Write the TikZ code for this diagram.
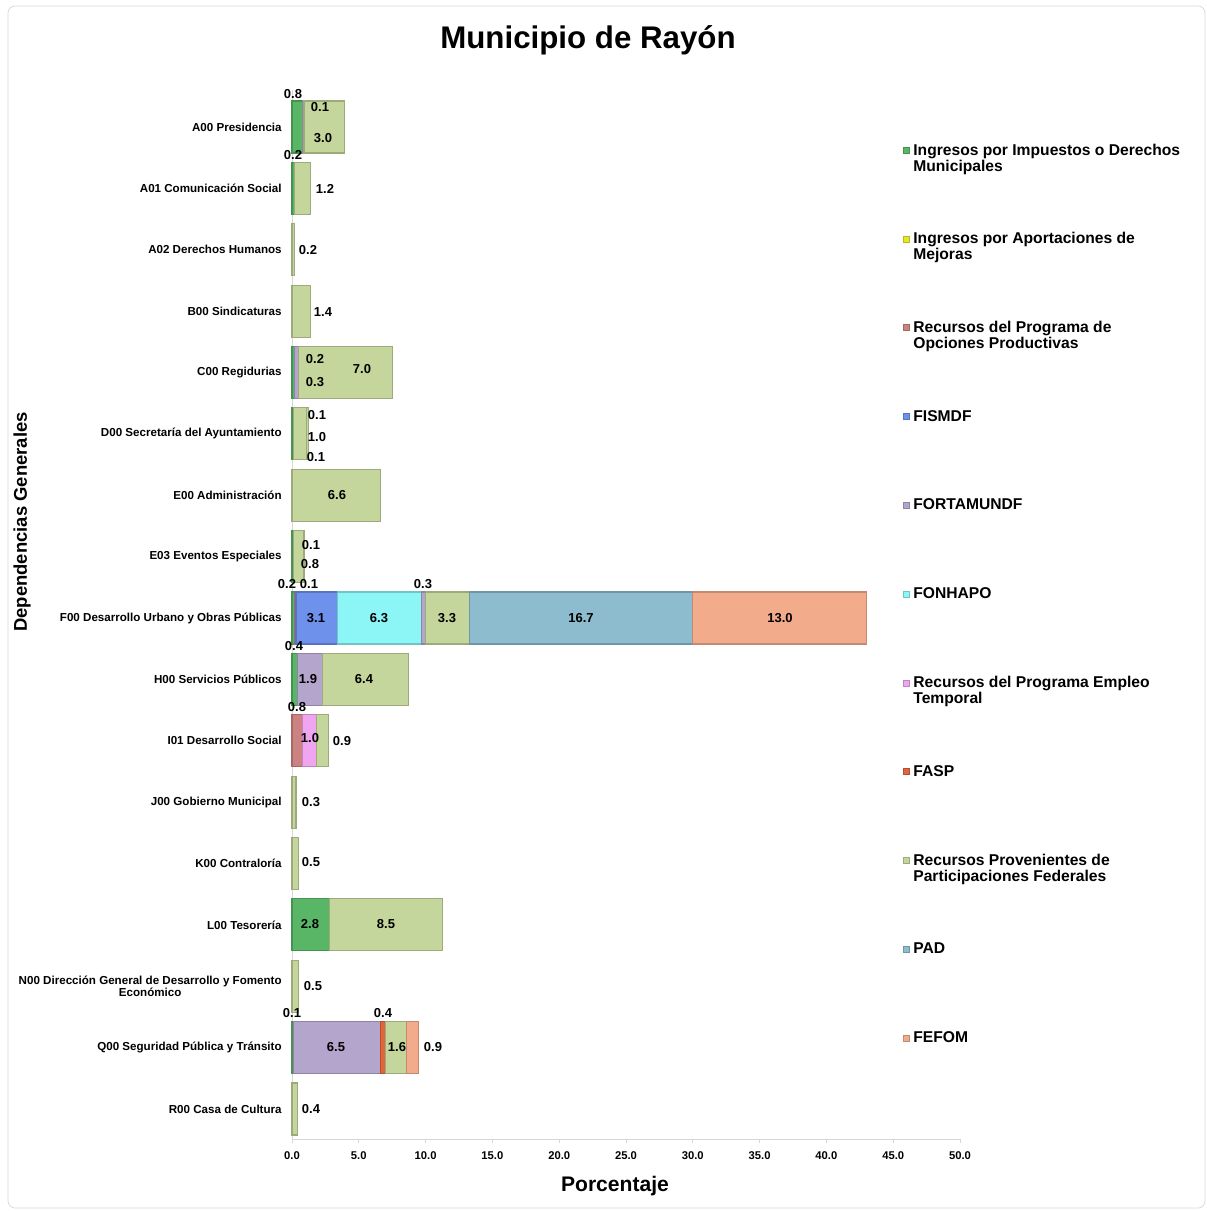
\documentclass[tikz,border=0pt]{standalone}
\usepackage{fontspec}
\setmainfont{Liberation Sans}
\usetikzlibrary{positioning}
\definecolor{cImp}{RGB}{88,182,102}
\definecolor{cMej}{RGB}{230,230,40}
\definecolor{cOpc}{RGB}{205,130,130}
\definecolor{cFis}{RGB}{110,145,235}
\definecolor{cFor}{RGB}{180,165,205}
\definecolor{cFon}{RGB}{140,245,245}
\definecolor{cEmp}{RGB}{240,165,240}
\definecolor{cFasp}{RGB}{225,100,60}
\definecolor{cPar}{RGB}{196,214,155}
\definecolor{cPad}{RGB}{140,188,206}
\definecolor{cFef}{RGB}{242,172,140}
\definecolor{gridgray}{RGB}{215,215,215}
\begin{document}
\begin{tikzpicture}[x=0.02cm,y=-0.02cm,
    seg/.style={fill=#1,draw=#1!80!black,line width=0.6pt},
    cat/.style={anchor=east,inner sep=0pt,align=center,font=\bfseries\fontsize{6.6}{7}\selectfont},
    val/.style={inner sep=0pt,font=\bfseries\fontsize{7.4}{8}\selectfont},
    tick/.style={inner sep=0pt,font=\bfseries\fontsize{6.4}{7}\selectfont},
    key/.style={fill=#1,draw=#1!80!black,line width=0.3pt},
    keytext/.style={anchor=north west,inner sep=0pt,align=left,font=\bfseries\fontsize{8.9}{9.1}\selectfont}]
  \useasboundingbox (0,0) rectangle (1207,1211);
  \draw[gridgray,rounded corners=4pt] (8,6) rectangle (1205,1208);
  % title and axis titles
  \node[font=\bfseries\fontsize{17.8}{21}\selectfont] (title) at (588,40) {Municipio de Rayón};
  \node[font=\bfseries\fontsize{12}{14}\selectfont] (xtitle) at (615,1186) {Porcentaje};
  \node[rotate=90,font=\bfseries\fontsize{10.5}{12}\selectfont] (ytitle) at (22,522) {Dependencias Generales};
  % axes
  \coordinate (o) at (292,1139);
  \coordinate (xend) at (960,1139);
  \coordinate (ytop) at (292,90);
  \draw[gridgray] (ytop) -- (o) -- (xend);
  \foreach \t [count=\i from 0] in {0.0,5.0,10.0,15.0,20.0,25.0,30.0,35.0,40.0,45.0,50.0} {
    \draw[gridgray] (292+66.8*\i,1139) -- (292+66.8*\i,1143);
    \node[tick] (t\i) at (292+66.8*\i,1156) {\t};
  }
  % categories
  \foreach \n [count=\r from 0] in {A00 Presidencia,A01 Comunicación Social,A02 Derechos Humanos,
      B00 Sindicaturas,C00 Regidurias,D00 Secretaría del Ayuntamiento,E00 Administración,
      E03 Eventos Especiales,F00 Desarrollo Urbano y Obras Públicas,H00 Servicios Públicos,
      I01 Desarrollo Social,J00 Gobierno Municipal,K00 Contraloría,L00 Tesorería,
      {N00 Dirección General de Desarrollo y Fomento\\Económico},Q00 Seguridad Pública y Tránsito,
      R00 Casa de Cultura}
    \node[cat] (c\r) at (282,127+61.375*\r) {\n};
  % stacked bars: row/start/end/colour
  \begin{scope}[shift={(292,0)},xscale=13.36]
    \foreach \r/\a/\b/\c in {0/0/0.8/cImp,0/0.8/0.9/cFor,0/0.9/3.9/cPar,
        1/0/0.2/cImp,1/0.2/1.4/cPar,
        2/0/0.2/cPar,
        3/0/1.4/cPar,
        4/0/0.2/cImp,4/0.2/0.5/cFor,4/0.5/7.5/cPar,
        5/0/0.1/cImp,5/0.1/1.1/cPar,5/1.1/1.2/cPar,
        6/0/6.6/cPar,
        7/0/0.1/cImp,7/0.1/0.9/cPar,
        8/0/0.2/cImp,8/0.2/0.3/cOpc,8/0.3/3.4/cFis,8/3.4/9.7/cFon,8/9.7/10.0/cFor,
        8/10.0/13.3/cPar,8/13.3/30.0/cPad,8/30.0/43.0/cFef,
        9/0/0.4/cImp,9/0.4/2.3/cFor,9/2.3/8.7/cPar,
        10/0/0.8/cOpc,10/0.8/1.8/cEmp,10/1.8/2.7/cPar,
        11/0/0.3/cPar,
        12/0/0.5/cPar,
        13/0/2.8/cImp,13/2.8/11.3/cPar,
        14/0/0.5/cPar,
        15/0/0.1/cImp,15/0.1/6.6/cFor,15/6.6/7.0/cFasp,15/7.0/8.6/cPar,15/8.6/9.5/cFef,
        16/0/0.4/cPar}
      \draw[seg=\c] (\a,101+61.375*\r) rectangle (\b,153+61.375*\r);
  \end{scope}
  % value labels
  \foreach \x/\y/\t [count=\k] in {293/94/0.8,320/107/0.1,323/138/3.0,
      293/155/0.2,325/189/1.2,308/250/0.2,323/312/1.4,
      315/359/0.2,315/382/0.3,362/369/7.0,
      317/415/0.1,317/437/1.0,316/457/0.1,337/495/6.6,
      311/545/0.1,310/564/0.8,
      287/584/0.2,309/584/0.1,316/618/3.1,379/618/6.3,423/584/0.3,447/618/3.3,581/618/16.7,780/618/13.0,
      294/646/0.4,308/679/1.9,364/679/6.4,
      297/707/0.8,310/738/1.0,342/741/0.9,
      311/802/0.3,311/862/0.5,310/924/2.8,386/924/8.5,313/986/0.5,
      292/1013/0.1,336/1047/6.5,383/1013/0.4,397/1047/1.6,433/1047/0.9,
      311/1109/0.4}
    \node[val] (v\k) at (\x,\y) {\t};
  % legend
  \foreach \c/\t [count=\i from 0] in {cImp/{Ingresos por Impuestos o Derechos\\Municipales},
      cMej/{Ingresos por Aportaciones de\\Mejoras},
      cOpc/{Recursos del Programa de\\Opciones Productivas},
      cFis/FISMDF,cFor/FORTAMUNDF,cFon/FONHAPO,
      cEmp/{Recursos del Programa Empleo\\Temporal},
      cFasp/FASP,
      cPar/{Recursos Provenientes de\\Participaciones Federales},
      cPad/PAD,cFef/FEFOM} {
    \draw[key=\c] (903,147+88.8*\i) rectangle (909,153+88.8*\i);
    \node[keytext] (l\i) at (913,143.5+88.8*\i) {\t};
  }
\end{tikzpicture}
\end{document}
